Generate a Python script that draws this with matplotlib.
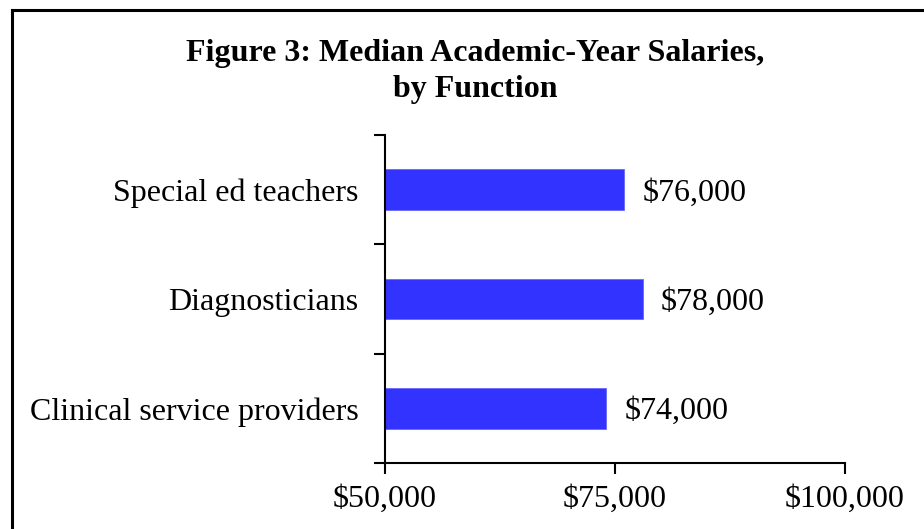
import matplotlib
matplotlib.use('Agg')
import matplotlib.pyplot as plt
from matplotlib.lines import Line2D
from matplotlib.ticker import FuncFormatter

plt.rcParams['font.family'] = ['Liberation Serif', 'DejaVu Serif']

# data, bottom to top
functions = ['Clinical service providers', 'Diagnosticians', 'Special ed teachers']
salaries = [74000, 78000, 76000]
xticks = [50000, 75000, 100000]

FS = 23

fig = plt.figure(figsize=(9.24, 5.29), dpi=100)
ax = fig.add_axes([0.4167, 0.1248, 0.4978, 0.62])

pos = range(len(functions))
ax.barh(pos, salaries, height=0.37, color='#3333ff', edgecolor='#6666ff',
        linewidth=0.6, left=0)
ax.set_xlim(50000, 100000)
ax.set_ylim(-0.5, len(functions) - 0.5)

money = FuncFormatter(lambda v, p: '${:,.0f}'.format(v))
ax.set_xticks(xticks)
ax.xaxis.set_major_formatter(money)
ax.tick_params(axis='x', length=8, width=1.5, labelsize=FS, pad=8, direction='out')

# y ticks sit on the category boundaries, labels in between
ax.set_yticks([i - 0.5 for i in range(len(functions) + 1)])
ax.set_yticklabels([])
ax.set_yticks(list(pos), minor=True)
ax.set_yticklabels(functions, minor=True)
ax.tick_params(axis='y', which='major', length=8, width=1.5)
ax.tick_params(axis='y', which='minor', length=0, labelsize=FS, pad=19)

for s in ['top', 'right']:
    ax.spines[s].set_visible(False)
for s in ['left', 'bottom']:
    ax.spines[s].set_linewidth(1.5)

for y, v in zip(pos, salaries):
    ax.text(v + 2000, y, money(v, None), va='center_baseline', ha='left', fontsize=FS)

fig.text(0.514, 0.899, 'Figure 3: Median Academic-Year Salaries,', ha='center',
         va='center', fontsize=FS, fontweight='bold')
fig.text(0.514, 0.831, 'by Function', ha='center', va='center', fontsize=FS,
         fontweight='bold')

# frame (cropped on the right and bottom)
fig.add_artist(Line2D([12 / 924, 1], [1 - 10 / 529] * 2, color='black', lw=2.2,
                      transform=fig.transFigure))
fig.add_artist(Line2D([12 / 924] * 2, [0, 1 - 10 / 529], color='black', lw=2.2,
                      transform=fig.transFigure))

fig.savefig('out.png', dpi=100)
